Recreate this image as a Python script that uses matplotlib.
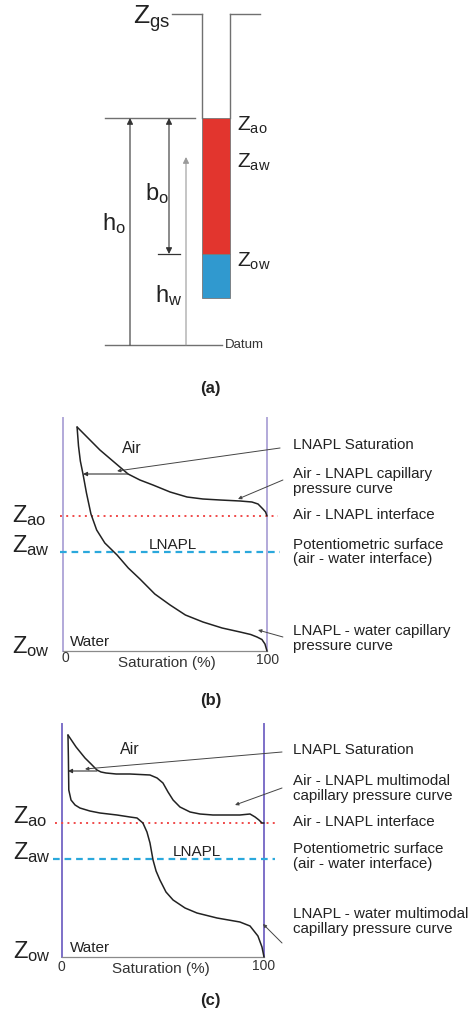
import matplotlib
matplotlib.use('Agg')
import matplotlib.pyplot as plt
from matplotlib.patches import Rectangle

plt.rcParams['font.family'] = ['Liberation Sans', 'DejaVu Sans']
plt.rcParams['mathtext.fontset'] = 'custom'
plt.rcParams['mathtext.rm'] = 'Liberation Sans'
plt.rcParams['mathtext.it'] = 'Liberation Sans'

# ---------------- data ----------------
# Panel (a): elevations above datum (relative units)
z_gs = 331
z_ao = 227
z_aw = 188
z_ow = 91
z_well_bottom = 47
z_datum = 0

# Panel (b): air-LNAPL and LNAPL-water capillary pressure curves (saturation %, elevation)
b_air_sat = [6.9, 18.1, 31.9, 37.7, 44.1, 52.5, 60.8, 68.6, 77.0, 86.8, 92.6, 95.6, 98.0, 99.3, 100]
b_air_elev = [224, 201, 177, 171, 166, 159, 154, 152, 151, 150, 149, 147, 142, 139, 135]
b_wat_sat = [6.9, 7.6, 8.5, 9.8, 11.5, 13.7, 16.5, 20.5, 26.5, 32, 37.7, 45, 52.5, 60, 68.6, 78,
             86.8, 92, 95.1, 97.5, 99.0, 100]
b_wat_elev = [224, 205, 190, 177, 158, 137, 121, 108, 96, 83, 72, 57, 46, 36, 29, 23,
              19, 16.5, 14, 11.5, 7, 0]
b_z_ao, b_z_aw, b_z_ow = 135, 99, 0
b_sat_arrow = (31.9, 9.8, 177)      # from, to, elevation

# Panel (c): multimodal curves
c_air_sat = [3.2, 7.2, 11.6, 14.6, 17.5, 19.5, 22, 27, 33.8, 43.7, 47.2, 50.1, 52.6, 55.1, 58.5,
             63.5, 68.4, 74.8, 88.1, 93.1, 95.6, 97.5, 99.0, 100]
c_air_elev = [222, 210, 199, 193, 187, 185, 184, 183, 183, 182, 179, 174, 165, 157, 150,
              145, 143, 142, 142, 143, 140, 137, 134, 134]
c_wat_sat = [3.2, 3.4, 3.6, 4.7, 6.7, 9.1, 14, 19, 27.4, 33.8, 37.3, 40.2, 42.2, 43.7, 45.2, 46.7,
             48.6, 51.6, 55.1, 61, 66.9, 76.8, 88.1, 93.1, 97, 99, 100]
c_wat_elev = [222, 200, 167, 157, 152, 149, 146, 144, 142, 140, 139, 134, 125, 114, 97, 86,
              77, 65, 57, 49, 44, 39, 35, 31, 21, 10, 0]
c_z_ao, c_z_aw, c_z_ow = 134, 98, 0
c_sat_arrow = (17.5, 3.2, 186)

b_labels = ["LNAPL Saturation", "Air - LNAPL capillary\npressure curve", "Air - LNAPL interface",
            "Potentiometric surface\n(air - water interface)", "LNAPL - water capillary\npressure curve"]
b_label_elev = [206, 169.5, 136, 99, 12.5]
c_labels = ["LNAPL Saturation", "Air - LNAPL multimodal\ncapillary pressure curve", "Air - LNAPL interface",
            "Potentiometric surface\n(air - water interface)", "LNAPL - water multimodal\ncapillary pressure curve"]
c_label_elev = [207, 168.5, 135, 100.5, 35.5]

# ---------------- figure ----------------
W, H = 469, 1013
fig = plt.figure(figsize=(W / 100, H / 100), dpi=100)


def px_axes(x0, y0, x1, y1):
    return fig.add_axes([x0 / W, 1 - y1 / H, (x1 - x0) / W, (y1 - y0) / H])


TXT = '#222222'
GRAY = '#707070'

# ---------------- panel (a) ----------------
ax = px_axes(0, 0, W, 395)
ax.set_xlim(0, W)
ax.set_ylim(-50, 345)
ax.axis('off')

ax.plot([172, 202], [z_gs, z_gs], color=GRAY, lw=1)
ax.plot([230, 260], [z_gs, z_gs], color=GRAY, lw=1)
ax.plot([202, 202], [z_gs, z_ao], color=GRAY, lw=1)
ax.plot([230, 230], [z_gs, z_ao], color=GRAY, lw=1)
ax.add_patch(Rectangle((202, z_ow), 28, z_ao - z_ow, fc='#e2352e', ec='#777777', lw=0.6))
ax.add_patch(Rectangle((202, z_well_bottom), 28, z_ow - z_well_bottom, fc='#3099cf', ec='#777777', lw=0.6))
ax.plot([105, 195], [z_ao, z_ao], color=GRAY, lw=1)
ax.plot([105, 222], [z_datum, z_datum], color=GRAY, lw=1)
ax.plot([158, 180], [z_ow, z_ow], color='#333333', lw=0.9)

ax.annotate('', xy=(130, z_ao), xytext=(130, z_datum),
            arrowprops=dict(arrowstyle='-|>', color='#333333', lw=0.8, mutation_scale=9, shrinkA=0, shrinkB=0))
ax.annotate('', xy=(169, z_ow), xytext=(169, z_ao),
            arrowprops=dict(arrowstyle='<|-|>', color='#333333', lw=0.8, mutation_scale=9, shrinkA=0, shrinkB=0))
ax.annotate('', xy=(186, z_aw), xytext=(186, z_datum),
            arrowprops=dict(arrowstyle='-|>', color='#9a9a9a', lw=0.8, mutation_scale=9, shrinkA=0, shrinkB=0))

ax.text(133, 321, r'$\mathregular{Z_{gs}}$', fontsize=19, color=TXT, va='baseline')
ax.text(237, 214, r'$\mathregular{Z_{ao}}$', fontsize=15, color=TXT, va='baseline')
ax.text(237, 177, r'$\mathregular{Z_{aw}}$', fontsize=15, color=TXT, va='baseline')
ax.text(237, 78, r'$\mathregular{Z_{ow}}$', fontsize=15, color=TXT, va='baseline')
ax.text(145, 145, r'$\mathregular{b_{o}}$', fontsize=17, color=TXT, va='baseline')
ax.text(102, 115, r'$\mathregular{h_{o}}$', fontsize=17, color=TXT, va='baseline')
ax.text(155, 43, r'$\mathregular{h_{w}}$', fontsize=17, color=TXT, va='baseline')
ax.text(225, z_datum, 'Datum', fontsize=9.5, color='#333333', va='center')
ax.text(210, -43, '(a)', fontsize=12, fontweight='bold', color=TXT, ha='center', va='center')


# ---------------- panels (b) and (c) ----------------
def draw_panel(ax, air_s, air_e, wat_s, wat_e, zao, zaw, zow, sat_arrow, labels, label_elev,
               axis_color, sx, red_span, blue_span, zlab_elev, leaders, inner, bottom_txt, tag, tag_e):
    ax.set_xlim(0, 100)
    ax.set_ylim(0, 233)
    ax.axis('off')
    ax.plot([0, 0], [0, 233], color=axis_color, lw=1.4, clip_on=False)
    ax.plot([100, 100], [0, 233], color=axis_color, lw=1.4, clip_on=False)
    ax.plot([0, 100], [zow, zow], color='#8a8a8a', lw=0.9, clip_on=False)
    ax.plot(red_span, [zao, zao], color='#f04a4a', lw=1.4, ls=(0, (1, 2.2)), clip_on=False)
    ax.plot(blue_span, [zaw, zaw], color='#2aa8dc', lw=1.6, ls=(0, (3, 2.2)), clip_on=False)
    ax.plot(air_s, air_e, color='#222222', lw=1.1, clip_on=False, solid_capstyle='round')
    ax.plot(wat_s, wat_e, color='#222222', lw=1.1, clip_on=False, solid_capstyle='round')
    ax.annotate('', xy=(sat_arrow[1], sat_arrow[2]), xytext=(sat_arrow[0], sat_arrow[2]),
                arrowprops=dict(arrowstyle='-|>', color='#333333', lw=0.8, mutation_scale=6,
                                shrinkA=0, shrinkB=0))
    for (x0, y0, x1, y1) in leaders:
        ax.annotate('', xy=(x1, y1), xytext=(x0, y0),
                    arrowprops=dict(arrowstyle='-|>', color='#444444', lw=0.7, mutation_scale=5,
                                    shrinkA=0, shrinkB=0))
    for lab, e in zip(labels, label_elev):
        ax.text(sx, e, lab, fontsize=10.9, color=TXT, va='center', ha='left', linespacing=1.05)
    for lab, (x, e) in zip([r'$\mathregular{Z_{ao}}$', r'$\mathregular{Z_{aw}}$', r'$\mathregular{Z_{ow}}$'],
                           zlab_elev):
        ax.text(x, e, lab, fontsize=17, color=TXT, va='baseline', ha='left')
    for lab, (x, e, ha, fs) in inner:
        ax.text(x, e, lab, fontsize=fs, color=TXT, va='center', ha=ha)
    for lab, (x, e, fs) in bottom_txt:
        ax.text(x, e, lab, fontsize=fs, color='#333333', va='center', ha='center')
    ax.text(tag[0], tag_e, tag[1], fontsize=12, fontweight='bold', color=TXT, ha='center', va='center')


axb = px_axes(63, 418, 267, 651)
draw_panel(axb, b_air_sat, b_air_elev, b_wat_sat, b_wat_elev, b_z_ao, b_z_aw, b_z_ow, b_sat_arrow,
           b_labels, b_label_elev, '#b2a9d9', 112.7, [-1.5, 105.4], [-1.5, 106.4],
           [(-25, 129), (-25, 99), (-25, -2)],
           [(106.4, 203, 26.5, 180), (107.8, 171, 85.8, 152), (107.8, 14, 95.6, 21)],
           [('Air', (33.8, 203, 'center', 11.5)), ('LNAPL', (53.9, 106, 'center', 11)),
            ('Water', (3.4, 9, 'left', 11))],
           [('0', (1, -7, 10)), ('100', (100.2, -9, 10)), ('Saturation (%)', (50.7, -12, 11))],
           (72.5, '(b)'), -49)

axc = px_axes(61.5, 724, 264, 957)
draw_panel(axc, c_air_sat, c_air_elev, c_wat_sat, c_wat_elev, c_z_ao, c_z_aw, c_z_ow, c_sat_arrow,
           c_labels, c_label_elev, '#7d70c8', 114.3, [-3.2, 106.9], [-4.2, 105.4],
           [(-24, 134), (-24, 98), (-24, -1)],
           [(108.9, 205, 11.6, 188), (108.9, 169, 85.7, 152), (108.9, 14, 99.5, 33)],
           [('Air', (33.8, 207, 'center', 11.5)), ('LNAPL', (66.9, 105, 'center', 11)),
            ('Water', (4.2, 9, 'left', 11))],
           [('0', (0, -10, 10)), ('100', (100, -9, 10)), ('Saturation (%)', (49.1, -12, 11))],
           (73.3, '(c)'), -43)

fig.savefig('out.png', dpi=100)
